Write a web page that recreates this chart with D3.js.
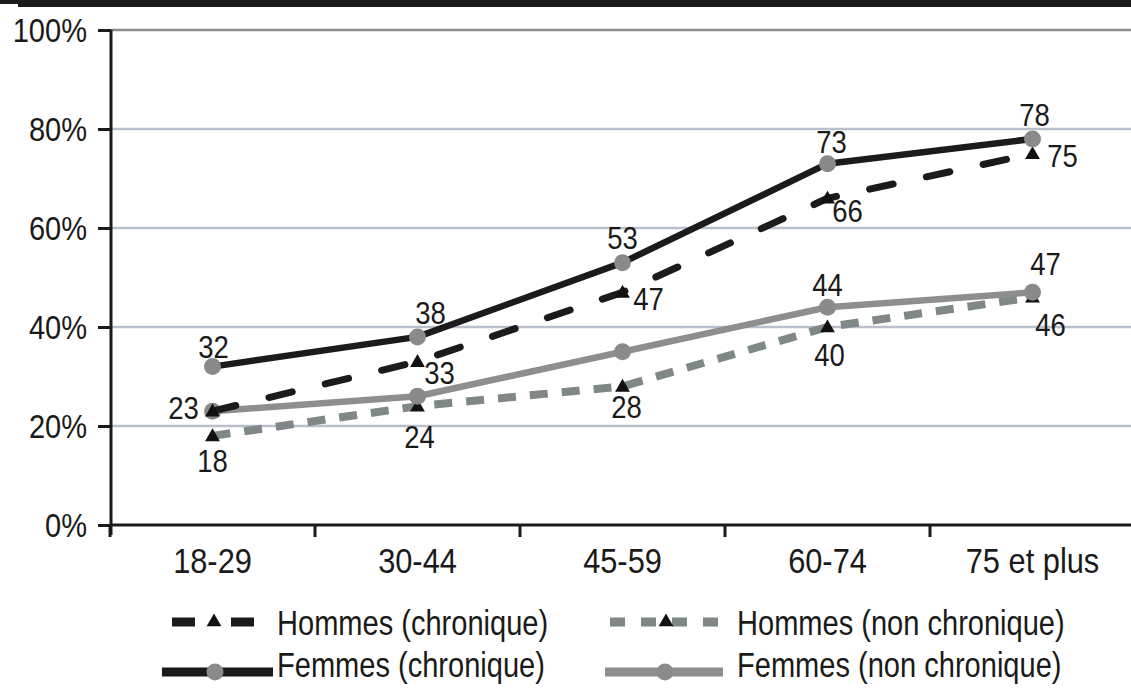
<!DOCTYPE html>
<html>
<head>
<meta charset="utf-8">
<script src="https://cdn.jsdelivr.net/npm/d3@7"></script>
<style>
  body { margin: 0; background: #fff; }
  svg { display: block; }
  text { font-family: "Liberation Sans", Arial, sans-serif; fill: #1a1a1a; }
</style>
</head>
<body>
<svg id="chart" width="1131" height="690"></svg>
<script>
// Data
const ageGroups = ['18-29', '30-44', '45-59', '60-74', '75 et plus'];
const hommesChronique = [23, 33, 47, 66, 75];
const hommesNonChronique = [18, 24, 28, 40, 46];
const femmesChronique = [32, 38, 53, 73, 78];
const femmesNonChronique = [23, 26, 35, 44, 47];
const yTicks = [0, 20, 40, 60, 80, 100];

// which values get a printed label (null = no label in the original)
const hcLabels = [null, 33, 47, 66, 75];
const hncLabels = [18, 24, 28, 40, 46];
const fcLabels = [32, 38, 53, 73, 78];
const fncLabels = [23, null, null, 44, 47];

const svg = d3.select('#chart');

// squeeze text horizontally (condensed look of the original)
function narrow(sel, s) {
    sel.each(function() {
        const t = d3.select(this);
        const tx = +t.attr('x') || 0;
        const ty = +t.attr('y') || 0;
        t.attr('x', 0).attr('y', 0)
         .attr('transform', 'translate(' + tx + ',' + ty + ') scale(' + s + ',1)');
    });
}

// top black rule of the page scan
svg.append('rect').attr('x', 18).attr('y', 0).attr('width', 1113).attr('height', 7).attr('fill', '#1b1b1d');
svg.append('rect').attr('x', 0).attr('y', 0).attr('width', 18).attr('height', 4).attr('fill', '#1b1b1d');

const x = d3.scaleBand().domain(ageGroups).range([110, 1135]);
const y = d3.scaleLinear().domain([0, 100]).range([525, 30]);
const cx = d => x(d) + x.bandwidth() / 2;

// gridlines
svg.append('g').selectAll('line')
    .data(yTicks.filter(t => t > 0))
    .join('line')
    .attr('x1', 111).attr('x2', 1131)
    .attr('y1', d => y(d)).attr('y2', d => y(d))
    .attr('stroke', d => d === 100 ? '#8a8c8e' : '#b9bfcb')
    .attr('stroke-width', 2.5);

// y axis
const yAxis = svg.append('g').attr('transform', 'translate(111,0)')
    .call(d3.axisLeft(y).tickValues(yTicks).tickSize(13).tickPadding(11).tickFormat(d => d + '%'));
yAxis.select('.domain').attr('stroke', '#1b1b1d').attr('stroke-width', 3).attr('d', 'M0,' + y(100) + 'V' + (y(0) + 10));
yAxis.selectAll('.tick line').attr('stroke', '#1b1b1d').attr('stroke-width', 3);
yAxis.selectAll('.tick text').attr('font-size', 33).attr('fill', '#1a1a1a')
    .attr('font-family', '"Liberation Sans", Arial, sans-serif')
    .attr('dy', '0.36em')
    .call(narrow, 0.88);

// x axis
const xAxis = svg.append('g').attr('transform', 'translate(0,' + y(0) + ')')
    .call(d3.axisBottom(x).tickSize(0).tickPadding(23));
xAxis.select('.domain').attr('stroke', '#1b1b1d').attr('stroke-width', 3).attr('d', 'M110,0H1131');
xAxis.selectAll('.tick text').attr('font-size', 35).attr('fill', '#1a1a1a')
    .attr('font-family', '"Liberation Sans", Arial, sans-serif')
    .call(narrow, 0.88);
xAxis.append('g').selectAll('line')
    .data(ageGroups)
    .join('line')
    .attr('x1', d => x(d)).attr('x2', d => x(d))
    .attr('y1', 0).attr('y2', 12)
    .attr('stroke', '#1b1b1d').attr('stroke-width', 3);

// series styles, drawing order bottom to top
const series = [
    { name: 'Hommes (non chronique)', values: hommesNonChronique, labels: hncLabels,
      color: '#7f8787', width: 8, dash: '18,14', cap: 'butt', marker: 'triangle',
      off: [[0, 36], [2, 42], [4, 32], [2, 39], [18, 39]] },
    { name: 'Femmes (non chronique)', values: femmesNonChronique, labels: fncLabels,
      color: '#8e8e8e', width: 6.5, dash: null, cap: 'round', marker: 'circle',
      off: [[-29, 8], null, null, [0, -11], [13, -17]] },
    { name: 'Hommes (chronique)', values: hommesChronique, labels: hcLabels,
      color: '#1b1b1b', width: 7, dash: '24,34', cap: 'round', marker: 'triangle',
      off: [null, [22, 22], [26, 18], [20, 24], [30, 13]] },
    { name: 'Femmes (chronique)', values: femmesChronique, labels: fcLabels,
      color: '#1b1b1b', width: 6.5, dash: null, cap: 'round', marker: 'circle',
      off: [[1, -9], [13, -13], [0, -14], [4, -11], [2, -13]] }
];

const line = d3.line().x((d, i) => cx(ageGroups[i])).y(d => y(d));
const tri = d3.symbol().type(d3.symbolTriangle).size(95);

series.forEach(s => {
    const g = svg.append('g');
    g.append('path')
        .attr('d', line(s.values))
        .attr('fill', 'none')
        .attr('stroke', s.color)
        .attr('stroke-width', s.width)
        .attr('stroke-linecap', s.cap)
        .attr('stroke-linejoin', 'round')
        .attr('stroke-dasharray', s.dash);

    if (s.marker === 'circle') {
        g.selectAll('circle').data(s.values).join('circle')
            .attr('cx', (d, i) => cx(ageGroups[i]))
            .attr('cy', d => y(d))
            .attr('r', 8.5)
            .attr('fill', '#8a8a8a');
    } else {
        g.selectAll('path.tri').data(s.values).join('path')
            .attr('class', 'tri')
            .attr('d', tri)
            .attr('transform', (d, i) => 'translate(' + cx(ageGroups[i]) + ',' + (y(d) + 1) + ')')
            .attr('fill', '#111');
    }
});

// data labels
series.forEach(s => {
    svg.append('g').selectAll('text')
        .data(s.labels.map((v, i) => ({ v, i })).filter(d => d.v !== null))
        .join('text')
        .attr('x', d => cx(ageGroups[d.i]) + s.off[d.i][0])
        .attr('y', d => y(s.values[d.i]) + s.off[d.i][1])
        .attr('text-anchor', 'middle')
        .attr('font-size', 32)
        .text(d => d.v)
        .call(narrow, 0.86);
});

// legend
const legendItems = [
    { s: series[2], x1: 172, x2: 260, mx: 214, y: 622, tx: 277, ty: 635, dash: '23,36' },
    { s: series[0], x1: 610, x2: 721, mx: 666, y: 622, tx: 737, ty: 635, dash: '15,16' },
    { s: series[3], x1: 162, x2: 273, mx: 215, y: 672, tx: 277, ty: 677, dash: null },
    { s: series[1], x1: 605, x2: 723, mx: 665, y: 672, tx: 737, ty: 677, dash: null }
];

const legend = svg.append('g');
legendItems.forEach(l => {
    legend.append('line')
        .attr('x1', l.x1).attr('x2', l.x2)
        .attr('y1', l.y).attr('y2', l.y)
        .attr('stroke', l.s.color)
        .attr('stroke-width', 9)
        .attr('stroke-dasharray', l.dash);
    if (l.s.marker === 'circle') {
        legend.append('circle').attr('cx', l.mx).attr('cy', l.y).attr('r', 8.5).attr('fill', '#8a8a8a');
    } else {
        legend.append('path').attr('d', tri).attr('transform', 'translate(' + l.mx + ',' + l.y + ')').attr('fill', '#111');
    }
    legend.append('text')
        .attr('x', l.tx).attr('y', l.ty)
        .attr('font-size', 35)
        .text(l.s.name)
        .call(narrow, 0.83);
});
</script>
</body>
</html>
